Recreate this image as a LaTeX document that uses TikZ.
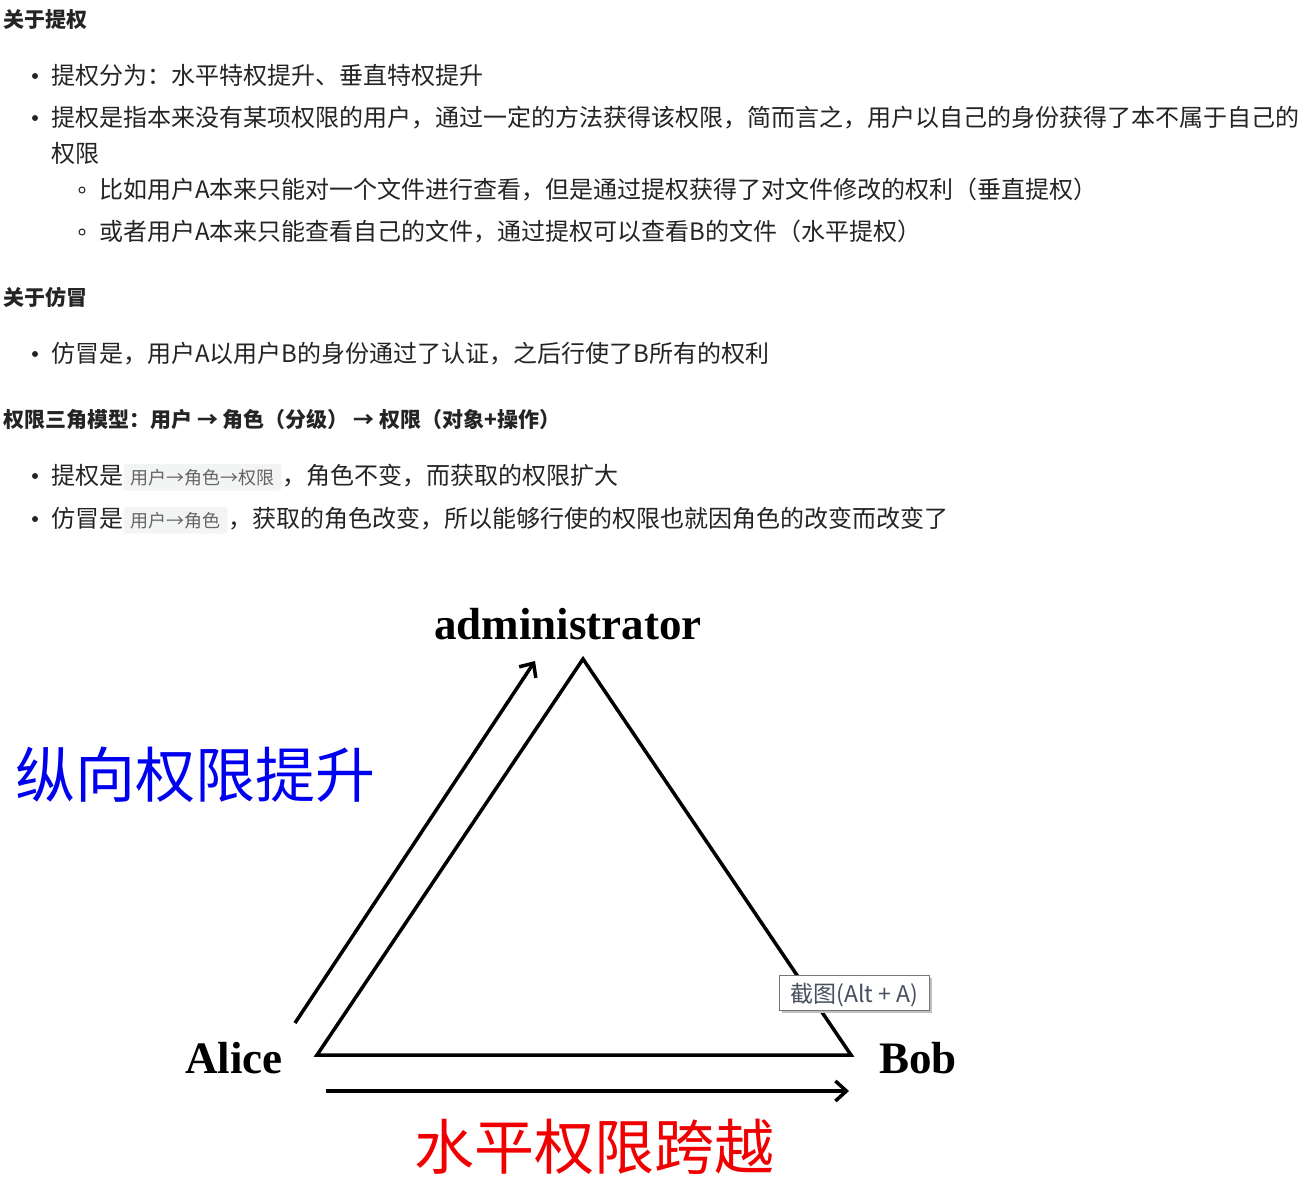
\documentclass[tikz,border=0pt]{standalone}
\usepackage{fontspec}
\setmainfont{Noto Sans CJK SC}
\newfontfamily\cjk{Noto Sans CJK SC}
\newfontfamily\tms{Liberation Serif}
\usetikzlibrary{arrows.meta}
\definecolor{textc}{RGB}{36,36,36}
\definecolor{codebg}{RGB}{243,244,244}
\definecolor{codetx}{RGB}{100,100,100}
\definecolor{tipbd}{RGB}{118,118,118}
\definecolor{tiptx}{RGB}{70,80,95}
\tikzset{
  txt/.style={anchor=base west, inner sep=0pt, font=\cjk\fontsize{24}{24}\selectfont, text=textc},
  hd/.style={anchor=base west, inner sep=0pt, font=\cjk\bfseries\fontsize{21}{21}\selectfont, text=textc},
  codebox/.style={anchor=base west, inner xsep=7pt, inner ysep=5pt, fill=codebg, rounded corners=3pt, font=\cjk\fontsize{18}{18}\selectfont, text=codetx},
  dotb/.style={fill=textc},
  subb/.style={draw=textc, line width=1pt},
  lbl/.style={anchor=base west, inner sep=0pt, font=\tms\bfseries\fontsize{45}{45}\selectfont, text=black},
  big/.style={anchor=base west, inner sep=0pt, font=\cjk\fontsize{60}{60}\selectfont},
  edge/.style={line width=3.5pt, line join=miter, black},
  arr/.style={line width=3.5pt, black, -{Straight Barb[length=11pt,width=20pt]}},
  tip/.style={anchor=north west, draw=tipbd, fill=white, line width=1pt, minimum width=150pt, minimum height=35pt, inner xsep=4pt, font=\cjk\fontsize{23}{23}\selectfont, text=tiptx, text depth=0pt},
}
\begin{document}
\begin{tikzpicture}[x=1pt,y=-1pt]
\useasboundingbox[fill=white] (0,0) rectangle (1309,1195);

% ---- text section ----
\node[hd] (h1) at (3,27) {关于提权};
\fill[dotb] (35,76) circle (3pt);
\node[txt] (l1) at (51,84) {提权分为：水平特权提升、垂直特权提升};
\fill[dotb] (35,118) circle (3pt);
\node[txt] (l2) at (51,126) {提权是指本来没有某项权限的用户，通过一定的方法获得该权限，简而言之，用户以自己的身份获得了本不属于自己的};
\node[txt] (l2b) at (51,162) {权限};
\draw[subb] (82,190) circle (3pt);
\node[txt] (s1) at (99,198) {比如用户A本来只能对一个文件进行查看，但是通过提权获得了对文件修改的权利（垂直提权）};
\draw[subb] (82,232) circle (3pt);
\node[txt] (s2) at (99,240) {或者用户A本来只能查看自己的文件，通过提权可以查看B的文件（水平提权）};

\node[hd] (h2) at (3,305) {关于仿冒};
\fill[dotb] (35,354) circle (3pt);
\node[txt] (l3) at (51,362) {仿冒是，用户A以用户B的身份通过了认证，之后行使了B所有的权利};

\node[hd] (h3) at (3,427) {权限三角模型：用户 → 角色（分级） → 权限（对象+操作）};
\fill[dotb] (35,476) circle (3pt);
\node[txt] (b1a) at (51,484) {提权是};
\node[codebox] (b1b) at (b1a.base east) {用户→角色→权限};
\node[txt] (b1c) at (b1b.base east) {，角色不变，而获取的权限扩大};
\fill[dotb] (35,519) circle (3pt);
\node[txt] (b2a) at (51,527) {仿冒是};
\node[codebox] (b2b) at (b2a.base east) {用户→角色};
\node[txt] (b2c) at (b2b.base east) {，获取的角色改变，所以能够行使的权限也就因角色的改变而改变了};

% ---- diagram ----
\node[lbl] (admin) at (434,639) {administrator};
\node[lbl] (alice) at (185,1073) {Alice};
\node[lbl] (bob) at (879,1073) {Bob};

\coordinate (top) at (583,659);
\coordinate (bl) at (317,1055);
\coordinate (br) at (851,1055);
\draw[edge] (bl) -- (top) -- (br) -- cycle;

\coordinate (va) at (295,1023);
\coordinate (vb) at (535,661);
\draw[arr] (va) -- (vb);
\coordinate (ha) at (326,1091);
\coordinate (hb) at (849,1091);
\draw[arr] (ha) -- (hb);

\node[big, text={rgb,255:red,0;green,0;blue,240}] (vt) at (15,797) {纵向权限提升};
\node[big, text={rgb,255:red,240;green,0;blue,0}] (ht) at (414,1169) {水平权限跨越};

% tooltip
\fill[black!25] (782,978) rectangle (932,1013);
\node[tip] (tt) at (779,975) {截图(Alt + A)};
\end{tikzpicture}
\end{document}
